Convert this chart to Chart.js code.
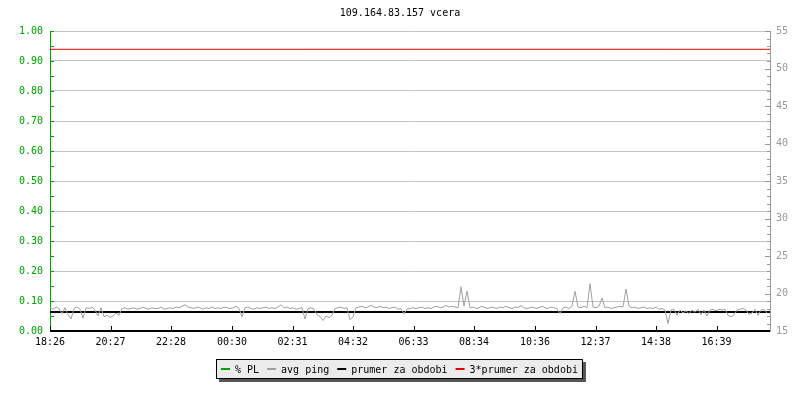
<!DOCTYPE html>
<html>
<head>
<meta charset="utf-8">
<title>109.164.83.157 vcera</title>
<script src="https://cdn.jsdelivr.net/npm/chart.js@4.4.1/dist/chart.umd.min.js"></script>
<style>
  html, body { margin: 0; padding: 0; background: #fff; }
  #wrap { width: 800px; height: 400px; }
</style>
</head>
<body>
<div id="wrap"><canvas id="pingChart" width="800" height="400"></canvas></div>
<script>
// --- DATA ---
const chartTitle = '109.164.83.157 vcera';
const tickMinutes = [0, 121, 242, 364, 485, 606, 727, 848, 970, 1091, 1212, 1333];
const tickLabels = ['18:26', '20:27', '22:28', '00:30', '02:31', '04:32', '06:33', '08:34', '10:36', '12:37', '14:38', '16:39'];
const seriesNames = ['% PL', 'avg ping', 'prumer za obdobi', '3*prumer za obdobi'];

// avg ping [ms], one sample every 6 minutes starting 18:26
const pingStepMinutes = 6;
const avgPing = [
  18.1, 17.9, 18.2, 18.0, 17.3, 18.1, 17.2, 16.6, 18.0, 18.2, 17.9, 16.7, 18.1, 18.0, 18.2, 17.8, 17.0, 18.1, 16.9, 17.1,
  16.8, 17.0, 17.4, 17.1, 18.0, 18.1, 17.9, 18.0, 18.1, 17.9, 18.0, 18.2, 18.0, 17.9, 18.1, 18.0, 18.0, 18.2, 17.9, 18.0,
  18.1, 18.0, 18.2, 18.1, 18.3, 18.5, 18.2, 18.1, 18.0, 18.2, 18.1, 17.9, 18.1, 18.0, 18.2, 18.0, 18.1, 18.0, 18.2, 18.1,
  18.0, 18.1, 18.3, 18.0, 16.9, 18.1, 18.2, 18.0, 17.9, 18.1, 18.0, 18.1, 18.2, 18.0, 18.1, 18.0, 18.2, 18.5, 18.1, 18.2,
  18.0, 18.1, 17.9, 18.0, 18.1, 16.6, 18.0, 18.1, 17.9, 17.2, 16.9, 16.4, 17.0, 16.8, 17.1, 18.0, 18.1, 18.2, 18.0, 18.1,
  16.5, 16.9, 18.1, 18.2, 18.3, 18.1, 18.2, 18.4, 18.2, 18.1, 18.3, 18.1, 18.2, 18.0, 18.1, 18.2, 17.9, 18.0, 17.3, 17.9,
  18.0, 18.1, 18.0, 18.1, 18.2, 18.0, 18.1, 18.0, 18.2, 18.3, 18.1, 18.2, 18.4, 18.2, 18.3, 18.2, 18.1, 20.9, 18.3, 20.3,
  18.1, 18.2, 18.0, 18.1, 18.3, 18.1, 18.0, 18.2, 18.1, 18.0, 18.2, 18.1, 18.3, 18.1, 18.0, 18.2, 18.1, 18.4, 18.1, 18.0,
  18.1, 18.2, 18.0, 18.1, 18.3, 18.1, 18.0, 18.2, 18.1, 18.0, 17.3, 18.1, 18.2, 18.0, 18.3, 20.3, 18.2, 18.1, 18.3, 18.1,
  21.3, 18.2, 18.1, 18.3, 19.4, 18.1, 18.2, 18.0, 18.1, 18.2, 18.3, 18.2, 20.6, 18.3, 18.1, 18.2, 18.0, 18.1, 18.2, 18.0,
  18.1, 18.0, 18.2, 17.9, 18.0, 17.8, 16.0, 17.8, 17.9, 17.1, 17.8, 17.4, 17.7, 17.3, 17.8, 17.5, 17.9, 17.2, 17.8, 17.0,
  17.8, 17.9, 17.7, 17.9, 17.8, 17.9, 17.1, 16.9, 17.2, 17.8, 17.9, 18.0, 17.8, 17.2, 17.4, 17.9, 17.1, 17.8, 17.9, 17.4
];
const plTimes = [0, 1440];
const plValues = [0, 0];
const prumerTimes = [0, 1440];
const prumer = 17.52;
const prumer3 = 52.56;

// --- STYLE ---
const GREEN = '#00a000', GREY = '#a0a0a0', GRID = '#c4c4c4', RED = '#e00000';
const FONT = { family: "'DejaVu Sans Mono', monospace", size: 10 };
const FONT_CSS = "10px 'DejaVu Sans Mono', monospace";

const pingPoints = avgPing.map((v, i) => ({ x: i * pingStepMinutes, y: v }));
const plPoints = plValues.map((v, i) => ({ x: plTimes[i], y: v }));

// ticks inside the plot, bottom axis line, title and boxed legend
const decorPlugin = {
    id: 'decor',
    afterDatasetsDraw(chart) {
        const { ctx, chartArea: a, scales } = chart;
        ctx.save();
        ctx.lineWidth = 1;

        // left axis ticks every 0.05
        ctx.strokeStyle = GREEN;
        for (let k = 0; k <= 20; k++) {
            const y = Math.round(scales.y.getPixelForValue(k * 0.05)) + 0.5;
            ctx.beginPath(); ctx.moveTo(a.left, y); ctx.lineTo(a.left + 4, y); ctx.stroke();
        }
        // right axis ticks every 1 ms
        ctx.strokeStyle = '#999';
        for (let v = 15; v <= 55; v++) {
            const y = Math.round(scales.y1.getPixelForValue(v)) + 0.5;
            const len = v % 5 === 0 ? 5 : 3;
            ctx.beginPath(); ctx.moveTo(a.right - len, y); ctx.lineTo(a.right, y); ctx.stroke();
        }
        // bottom axis (covers the 0 % PL line) and time ticks
        ctx.fillStyle = '#000';
        ctx.fillRect(a.left, Math.floor(a.bottom) - 1, a.right - a.left, 2);
        ctx.strokeStyle = '#000';
        tickMinutes.forEach(m => {
            const x = Math.round(scales.x.getPixelForValue(m)) + 0.5;
            ctx.beginPath(); ctx.moveTo(x, a.bottom); ctx.lineTo(x, a.bottom - 5); ctx.stroke();
        });
        ctx.restore();
    },
    afterDraw(chart) {
        const { ctx } = chart;
        ctx.save();
        ctx.font = FONT_CSS;
        ctx.fillStyle = '#000';
        ctx.textAlign = 'center';
        ctx.textBaseline = 'middle';
        ctx.fillText(chartTitle, 400, 13);

        // legend box
        const items = chart.data.datasets.map(d => ({ text: d.label, color: d.borderColor, w: ctx.measureText(d.label).width }));
        const dash = 9, gapDash = 5, gapItem = 8, padX = 5;
        let total = padX * 2 + gapItem * (items.length - 1);
        items.forEach(it => { total += dash + gapDash + it.w; });
        const bx = Math.round(399 - total / 2), by = 359, bh = 20;
        ctx.fillStyle = '#555';
        ctx.fillRect(bx + 3, by + 3, total, bh);
        ctx.fillStyle = '#ececec';
        ctx.fillRect(bx, by, total, bh);
        ctx.strokeStyle = '#000';
        ctx.lineWidth = 1;
        ctx.strokeRect(bx + 0.5, by + 0.5, total - 1, bh - 1);

        let x = bx + padX;
        const cy = by + bh / 2;
        ctx.textAlign = 'left';
        items.forEach(it => {
            ctx.fillStyle = it.color;
            ctx.fillRect(x, cy - 1, dash, 2);
            x += dash + gapDash;
            ctx.fillStyle = '#000';
            ctx.fillText(it.text, x, cy + 1);
            x += it.w + gapItem;
        });
        ctx.restore();
    }
};

new Chart(document.getElementById('pingChart'), {
    type: 'line',
    data: {
        datasets: [
            { label: seriesNames[0], data: plPoints, yAxisID: 'y', borderColor: GREEN, borderWidth: 1 },
            { label: seriesNames[1], data: pingPoints, yAxisID: 'y1', borderColor: GREY, borderWidth: 1 },
            { label: seriesNames[2], data: prumerTimes.map(t => ({ x: t, y: prumer })), yAxisID: 'y1', borderColor: '#000', borderWidth: 2 },
            { label: seriesNames[3], data: prumerTimes.map(t => ({ x: t, y: prumer3 })), yAxisID: 'y1', borderColor: RED, borderWidth: 1 }
        ]
    },
    options: {
        responsive: false,
        animation: false,
        devicePixelRatio: 1,
        layout: { padding: { top: 31, left: 0, right: 0, bottom: 0 } },
        elements: { point: { radius: 0 }, line: { tension: 0, fill: false } },
        plugins: { legend: { display: false }, title: { display: false }, tooltip: { enabled: false } },
        scales: {
            x: {
                type: 'linear', min: 0, max: 1440,
                afterBuildTicks: s => { s.ticks = tickMinutes.map(v => ({ value: v })); },
                ticks: { autoSkip: false, maxRotation: 0, color: '#000', font: FONT, padding: 5,
                    callback: (v, i) => tickLabels[i] },
                grid: { display: false, drawTicks: false },
                border: { color: '#000' },
                afterFit: s => { s.height = 69; }
            },
            y: {
                position: 'left', min: 0, max: 1,
                ticks: { stepSize: 0.1, color: GREEN, font: FONT, padding: 7, callback: v => Number(v).toFixed(2) },
                grid: { color: c => (c.tick && c.tick.value === 0 ? 'rgba(0,0,0,0)' : GRID), drawTicks: false },
                border: { color: GREEN },
                afterFit: s => { s.width = 50; }
            },
            y1: {
                position: 'right', min: 15, max: 55,
                ticks: { stepSize: 5, color: '#999', font: FONT, padding: 6 },
                grid: { drawOnChartArea: false, drawTicks: false },
                border: { color: '#999' },
                afterFit: s => { s.width = 30; }
            }
        }
    },
    plugins: [decorPlugin]
});
</script>
</body>
</html>
